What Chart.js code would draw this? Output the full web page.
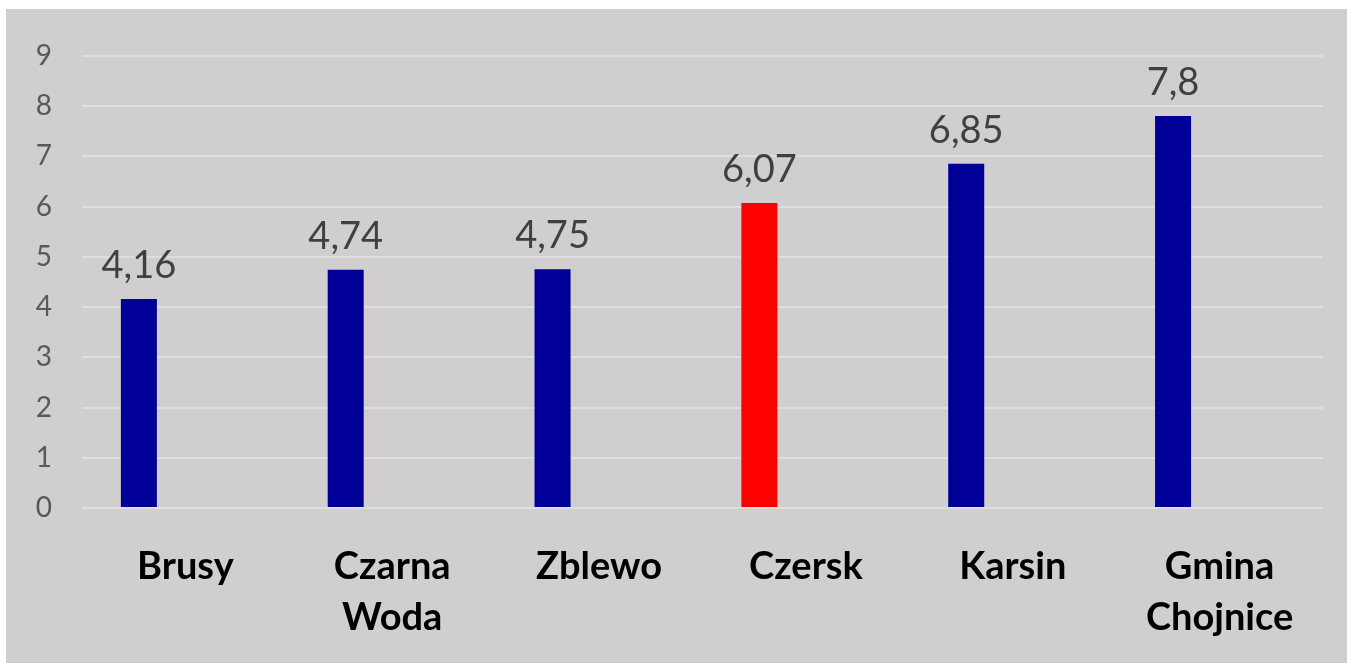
<!DOCTYPE html>
<html>
<head>
<meta charset="utf-8">
<script src="https://cdn.jsdelivr.net/npm/chart.js@4/dist/chart.umd.min.js"></script>
<style>
  html, body { margin: 0; padding: 0; background: #ffffff; }
  #wrap { position: absolute; left: 6px; top: 9px; width: 1341px; height: 654px; background: #d0cecf; }
  canvas { display: block; }
</style>
</head>
<body>
<div id="wrap"><canvas id="c" width="1341" height="654"></canvas></div>
<script>
const categories = ["Brusy", ["Czarna", "Woda"], "Zblewo", "Czersk", "Karsin", ["Gmina", "Chojnice"]];
const values = [4.16, 4.74, 4.75, 6.07, 6.85, 7.8];
const barColors = ["#000099", "#000099", "#000099", "#ff0000", "#000099", "#000099"];
const yTicks = [0, 1, 2, 3, 4, 5, 6, 7, 8, 9];

const valueLabels = {
  id: 'valueLabels',
  afterDatasetsDraw(chart) {
    const ctx = chart.ctx;
    const meta = chart.getDatasetMeta(0);
    ctx.save();
    ctx.font = '38px Lato';
    ctx.fillStyle = '#404040';
    ctx.textAlign = 'center';
    ctx.textBaseline = 'alphabetic';
    meta.data.forEach((bar, i) => {
      ctx.fillText(String(values[i]).replace('.', ','), bar.x, bar.y - 21);
    });
    ctx.restore();
  }
};

new Chart(document.getElementById('c'), {
  type: 'bar',
  data: {
    labels: categories,
    datasets: [
      { data: values, backgroundColor: barColors, categoryPercentage: 0.9, barPercentage: 0.387 },
      { data: values.map(() => null), backgroundColor: 'transparent', categoryPercentage: 0.9, barPercentage: 0.387 }
    ]
  },
  options: {
    responsive: false,
    animation: false,
    devicePixelRatio: 1,
    layout: { padding: { top: 36, right: 24, left: 0, bottom: 0 } },
    plugins: { legend: { display: false }, tooltip: { enabled: false } },
    scales: {
      x: {
        grid: { display: false },
        border: { display: false },
        ticks: {
          color: '#000000',
          font: { family: 'Lato', size: 38, weight: 'bold', lineHeight: 1.34 },
          padding: 25,
          maxRotation: 0,
          autoSkip: false
        },
        afterFit(scale) { scale.height = 155; }
      },
      y: {
        min: 0,
        max: 9,
        afterBuildTicks(scale) { scale.ticks = yTicks.map(v => ({ value: v })); },
        grid: { color: '#dedede', lineWidth: 2, drawTicks: false },
        border: { display: false },
        ticks: {
          color: '#595959',
          font: { family: 'Lato', size: 28 },
          padding: 30
        },
        afterFit(scale) { scale.width = 76; }
      }
    }
  },
  plugins: [valueLabels]
});
</script>
</body>
</html>
